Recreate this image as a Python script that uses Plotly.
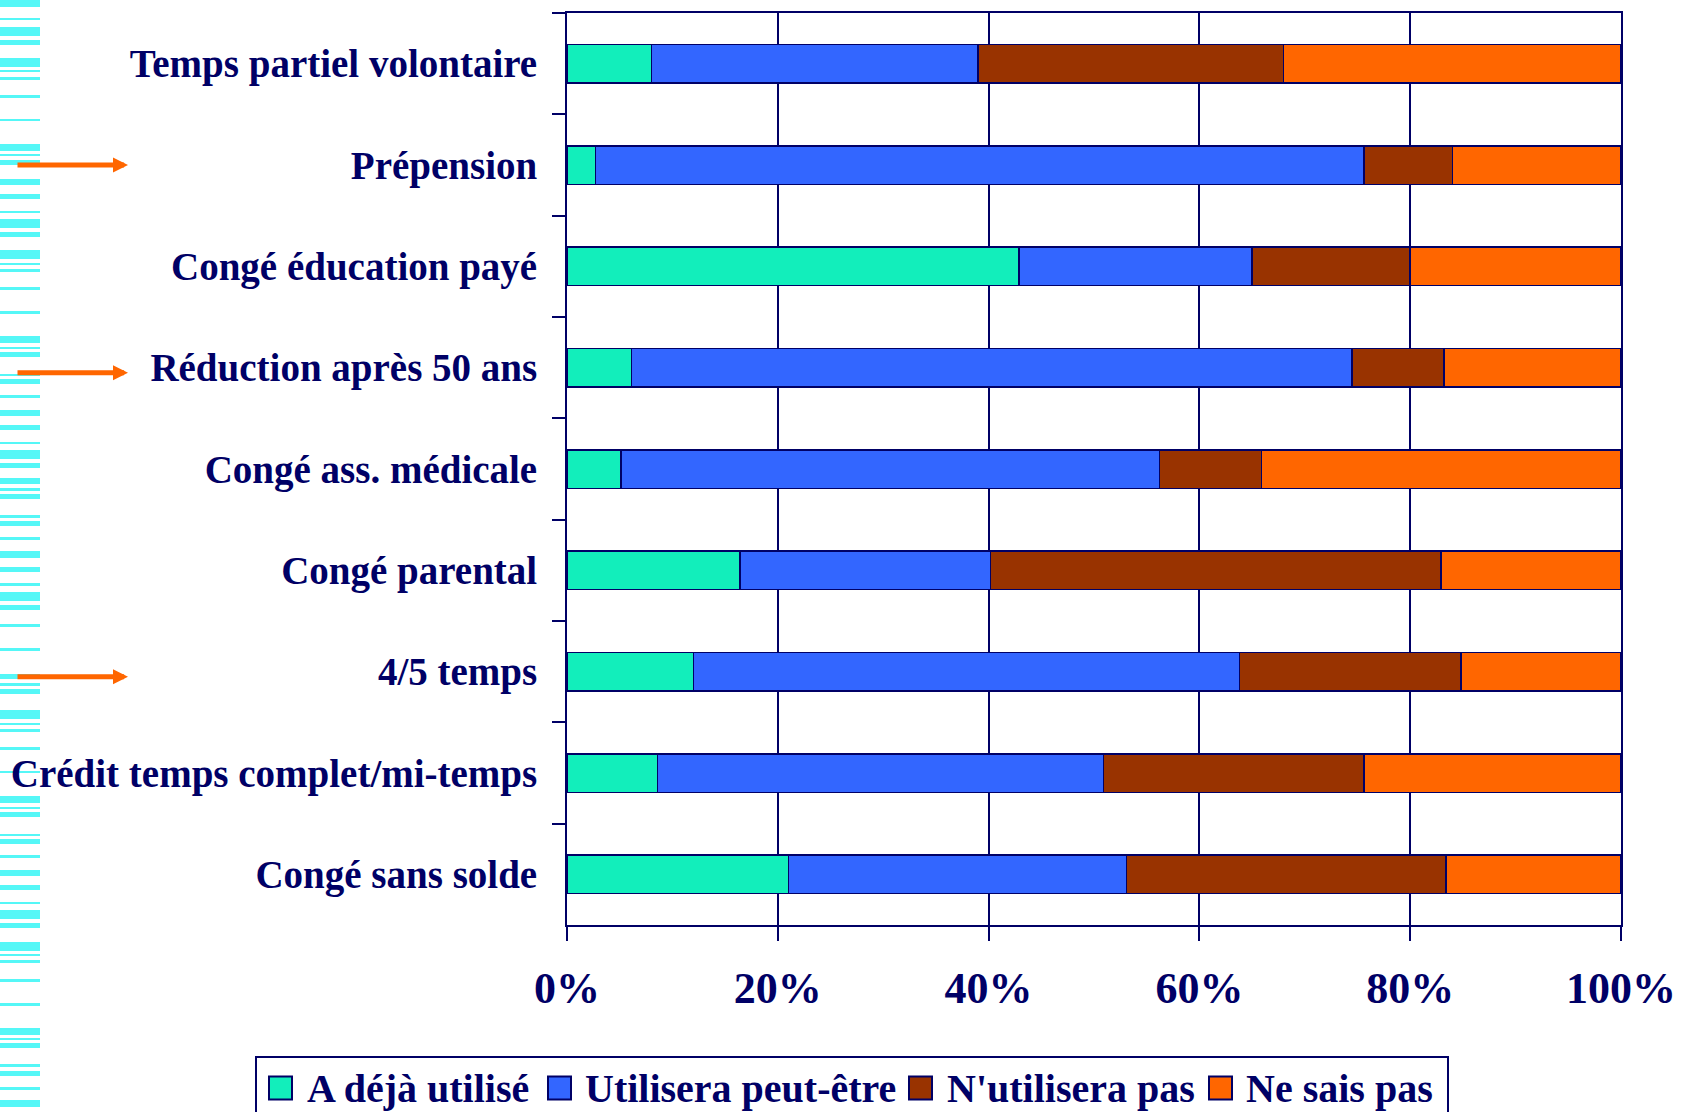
import plotly.graph_objects as go

# Survey results: use of leave / working-time schemes (share of respondents, %)
categories = [
    "Temps partiel volontaire",
    "Prépension",
    "Congé éducation payé",
    "Réduction après 50 ans",
    "Congé ass. médicale",
    "Congé parental",
    "4/5 temps",
    "Crédit temps complet/mi-temps",
    "Congé sans solde",
]
deja_utilise = [8.0, 2.7, 42.9, 6.1, 5.1, 16.4, 12.0, 8.6, 21.0]
utilisera_peut_etre = [31.0, 72.9, 22.1, 68.4, 51.1, 23.8, 51.8, 42.3, 32.1]
n_utilisera_pas = [29.0, 8.4, 15.0, 8.7, 9.7, 42.7, 21.0, 24.7, 30.3]
ne_sais_pas = [32.0, 16.0, 20.0, 16.8, 34.1, 17.1, 15.2, 24.4, 16.6]

series_names = ["A déjà utilisé", "Utilisera peut-être", "N'utilisera pas", "Ne sais pas"]
series_values = [deja_utilise, utilisera_peut_etre, n_utilisera_pas, ne_sais_pas]
series_colors = ["#12EEBB", "#3366FF", "#993300", "#FF6600"]

x_tick_values = [0, 20, 40, 60, 80, 100]
x_tick_labels = ["0%", "20%", "40%", "60%", "80%", "100%"]

# Schemes flagged with an arrow in the margin
highlighted = ["Prépension", "Réduction après 50 ans", "4/5 temps"]

NAVY = "#000066"
SERIF = "Liberation Serif, Times New Roman, serif"
W, H = 1682, 1112
M_L, M_R, M_T, M_B = 567, 61, 13, 187
PLOT_W = W - M_L - M_R
PLOT_H = H - M_T - M_B


def px_to_paper_x(px):
    return (px - M_L) / PLOT_W


def px_to_paper_y(py):
    return (H - M_B - py) / PLOT_H


fig = go.Figure()
for name, vals, color in zip(series_names, series_values, series_colors):
    fig.add_trace(go.Bar(
        y=categories,
        x=vals,
        name=name,
        orientation="h",
        marker=dict(color=color, line=dict(color=NAVY, width=1.5)),
        showlegend=False,
    ))

# Decorative cyan bar-code strip along the left edge (pixel rows)
strip_rows = [
    (0, 7), (18, 20), (27, 36), (40, 45), (58, 67), (70, 72), (77, 80), (95, 98),
    (119, 121), (144, 151), (154, 156), (160, 165), (179, 185), (194, 199),
    (211, 213), (219, 228), (232, 237), (250, 259), (263, 265), (269, 272),
    (287, 290), (311, 314), (336, 343), (347, 349), (352, 357), (374, 376),
    (379, 384), (395, 398), (410, 416), (425, 430), (442, 444), (450, 459),
    (463, 468), (478, 484), (488, 491), (494, 499), (515, 518), (521, 526),
    (537, 540), (551, 558), (567, 572), (583, 586), (592, 601), (605, 610),
    (624, 627), (648, 651), (674, 679), (683, 686), (689, 694), (710, 719),
    (723, 725), (729, 732), (747, 750), (771, 773), (796, 803), (807, 809),
    (812, 817), (834, 836), (839, 844), (855, 858), (870, 876), (885, 890),
    (902, 904), (910, 919), (923, 928), (942, 951), (954, 956), (960, 963),
    (979, 982), (1003, 1006), (1028, 1035), (1038, 1040), (1043, 1048),
    (1064, 1067), (1071, 1076), (1087, 1090), (1100, 1107),
]
shapes = []
for y0, y1 in strip_rows:
    shapes.append(dict(
        type="rect", xref="paper", yref="paper",
        x0=px_to_paper_x(0), x1=px_to_paper_x(40),
        y0=px_to_paper_y(y0), y1=px_to_paper_y(y1),
        fillcolor="#55F7F7", line=dict(width=0), layer="below",
    ))

annotations = []
arrow_shift = [0, -5, -5]
for cat, dy in zip(highlighted, arrow_shift):
    annotations.append(dict(
        xref="paper", yref="y", x=px_to_paper_x(128), y=cat, yshift=dy,
        axref="pixel", ayref="pixel", ax=-112, ay=0,
        showarrow=True, arrowhead=2, arrowsize=0.6, arrowwidth=5,
        arrowcolor="#FF6600", text="",
    ))

# Legend box along the bottom edge, one swatch + label per series
legend_box = (256, 1057, 1448, 1130)
swatch_left = [269, 548, 909, 1209]
label_left = [305, 583, 945, 1244]
SWATCH = 23
LEGEND_MID = 1088
shapes.append(dict(
    type="rect", xref="paper", yref="paper",
    x0=px_to_paper_x(legend_box[0]), x1=px_to_paper_x(legend_box[2]),
    y0=px_to_paper_y(legend_box[1]), y1=px_to_paper_y(legend_box[3]),
    fillcolor="white", line=dict(color=NAVY, width=2), layer="above",
))
for name, color, sx, tx in zip(series_names, series_colors, swatch_left, label_left):
    shapes.append(dict(
        type="rect", xref="paper", yref="paper",
        x0=px_to_paper_x(sx), x1=px_to_paper_x(sx + SWATCH),
        y0=px_to_paper_y(LEGEND_MID - SWATCH / 2), y1=px_to_paper_y(LEGEND_MID + SWATCH / 2),
        fillcolor=color, line=dict(color=NAVY, width=2), layer="above",
    ))
    annotations.append(dict(
        xref="paper", yref="paper", x=px_to_paper_x(tx), y=px_to_paper_y(LEGEND_MID),
        xanchor="left", yanchor="middle", showarrow=False, text=name,
        font=dict(family=SERIF, size=40, color=NAVY, weight="bold"),
    ))

fig.update_layout(
    width=W, height=H,
    margin=dict(l=M_L, r=M_R, t=M_T, b=M_B, autoexpand=False),
    paper_bgcolor="white", plot_bgcolor="white",
    barmode="stack", bargap=0.62,
    font=dict(family=SERIF, color=NAVY),
    shapes=shapes,
    annotations=annotations,
    showlegend=False,
)

fig.update_xaxes(
    range=[0, 100], tickvals=x_tick_values, ticktext=x_tick_labels,
    showgrid=True, gridcolor=NAVY, gridwidth=2, zeroline=False,
    showline=True, linecolor=NAVY, linewidth=2, mirror=True,
    ticks="outside", ticklen=14, tickwidth=2, tickcolor=NAVY,
    tickfont=dict(family=SERIF, size=44, color=NAVY, weight="bold"),
    ticklabelstandoff=9, automargin=False,
)
fig.update_yaxes(
    categoryorder="array", categoryarray=categories, autorange="reversed",
    tickson="boundaries", ticks="outside", ticklen=13, tickwidth=2, tickcolor=NAVY,
    showgrid=False, showline=True, linecolor=NAVY, linewidth=2, mirror=True,
    tickfont=dict(family=SERIF, size=39, color=NAVY, weight="bold"),
    ticklabelstandoff=20, automargin=False,
)

fig.write_html("out.html")
